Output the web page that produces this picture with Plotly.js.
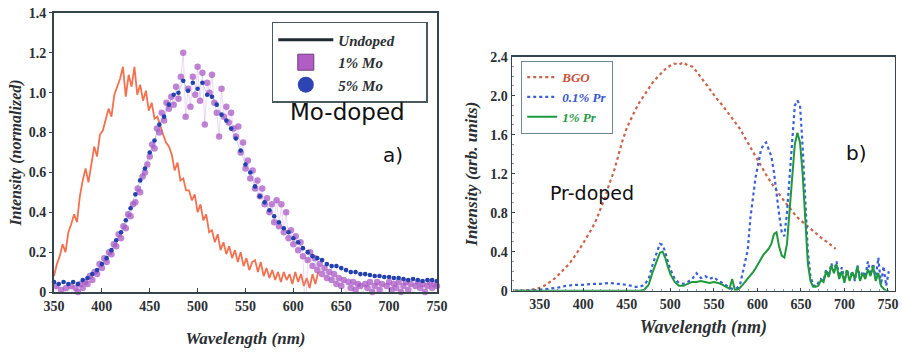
<!DOCTYPE html>
<html>
<head>
<meta charset="utf-8">
<script src="https://cdn.plot.ly/plotly-3.0.1.min.js"></script>
<style>
html,body{margin:0;padding:0;background:#fff;}
#chart{width:903px;height:354px;}
</style>
</head>
<body>
<div id="chart"></div>
<script>
// ---------- Panel a) Mo-doped ----------
// Undoped: starts at 350 nm, every 3 nm
const undopedI = [
  0.08,0.14,0.18,0.24,0.20,0.30,0.34,0.39,0.35,0.48,
  0.56,0.62,0.55,0.64,0.73,0.68,0.79,0.81,0.87,0.92,
  0.88,0.99,1.03,1.07,1.13,0.98,1.09,1.03,1.13,0.99,
  1.04,0.96,1.01,0.91,0.95,0.87,0.88,0.83,0.79,0.75,
  0.73,0.69,0.61,0.65,0.56,0.57,0.51,0.51,0.46,0.49,
  0.40,0.44,0.36,0.39,0.30,0.31,0.25,0.29,0.21,0.25,
  0.19,0.23,0.17,0.21,0.15,0.20,0.13,0.17,0.11,0.15,
  0.16,0.10,0.15,0.08,0.12,0.07,0.11,0.06,0.10,0.05,
  0.10,0.06,0.09,0.04,0.10,0.05,0.09,0.03,0.07,0.02,
  0.09,0.04,0.10
];
// 1% Mo: starts at 350 nm, every 2.5 nm
const mo1I = [
  -0.02,0.03,-0.04,0.01,-0.03,0.02,-0.01,0.03,-0.02,0.02,
  0.00,0.04,0.02,0.05,0.04,0.08,0.06,0.10,0.09,0.14,
  0.12,0.17,0.15,0.20,0.19,0.24,0.23,0.29,0.27,0.33,
  0.32,0.39,0.38,0.44,0.45,0.52,0.50,0.58,0.60,0.64,
  0.68,0.74,0.72,0.82,0.80,0.90,0.86,0.95,0.92,0.98,
  0.94,1.03,0.97,1.08,1.20,0.88,1.02,0.93,1.08,0.99,
  1.13,0.96,1.10,0.84,1.05,1.00,1.09,0.95,0.90,0.78,
  1.02,0.88,0.93,0.85,0.90,0.82,0.78,0.83,0.70,0.75,
  0.62,0.66,0.57,0.61,0.52,0.56,0.48,0.52,0.44,0.47,
  0.40,0.44,0.35,0.46,0.33,0.44,0.30,0.40,0.27,0.31,
  0.24,0.28,0.21,0.25,0.18,-0.13,0.16,0.20,0.13,0.17,
  0.11,0.14,0.09,0.12,0.07,0.10,0.06,0.09,0.04,0.07,
  0.03,0.06,-0.02,0.05,0.02,0.05,0.01,0.04,0.03,-0.01,
  0.04,0.02,0.05,0.00,0.03,0.05,0.01,0.04,-0.02,0.03,
  0.05,0.01,0.04,0.02,0.05,0.00,0.03,0.05,0.01,0.04,
  -0.01,0.03,0.05,0.02,0.04,0.00,0.03,0.05,0.02,0.04,
  0.03
];
// 5% Mo: starts at 350 nm, every 5 nm
const mo5I = [
  0.05,0.04,0.05,0.04,0.05,0.04,0.06,0.07,0.09,0.11,
  0.14,0.17,0.21,0.26,0.30,0.36,0.42,0.49,0.56,0.62,
  0.70,0.76,0.84,0.88,0.94,0.99,1.00,1.06,1.01,1.05,
  1.02,1.05,0.99,0.98,0.94,0.89,0.86,0.82,0.77,0.71,
  0.64,0.60,0.53,0.48,0.45,0.41,0.38,0.35,0.32,0.30,
  0.27,0.25,0.22,0.20,0.18,0.17,0.16,0.14,0.13,0.13,
  0.12,0.11,0.10,0.10,0.09,0.09,0.085,0.08,0.08,0.075,
  0.075,0.07,0.07,0.065,0.06,0.065,0.06,0.055,0.06,0.06,
  0.055
];
const aXTicks = [350,400,450,500,550,600,650,700,750];
const aYTicks = [0,0.2,0.4,0.6,0.8,1.0,1.2,1.4];
const aYText  = ["0","0.2","0.4","0.6","0.8","1.0","1.2","1.4"];

// ---------- Panel b) Pr-doped ----------
// BGO: starts at 320 nm, every 5 nm
const bgoI = [
  0,0,0,0.005,0.01,0.02,0.03,0.05,0.08,0.11,
  0.15,0.19,0.24,0.29,0.35,0.42,0.49,0.56,0.64,0.73,
  0.84,0.96,1.10,1.22,1.38,1.54,1.67,1.77,1.86,1.94,
  2.01,2.08,2.14,2.19,2.24,2.28,2.31,2.33,2.32,2.34,
  2.31,2.30,2.25,2.19,2.12,2.06,2.00,1.95,1.90,1.84,
  1.77,1.72,1.66,1.58,1.50,1.42,1.34,1.27,1.19,1.12,
  1.05,0.99,0.93,0.87,0.81,0.76,0.72,0.68,0.64,0.60,
  0.56,0.53,0.50,0.46,0.43
];
const prWl = [
  322,330,340,350,360,370,380,390,400,410,
  420,430,440,450,460,465,470,475,480,485,
  488,491,494,497,500,505,510,515,520,525,
  530,535,540,545,550,555,560,565,568,571,
  574,577,580,583,586,589,592,595,598,601,
  604,607,610,613,616,619,622,625,628,631,
  634,637,640,643,646,649,652,655,658,661,
  664,667,670,673,676,679,682,685,688,691,
  694,697,700,703,706,709,712,715,718,721,
  724,727,730,733,736,739,742,745,748,751
];
const pr01I = [
  0,0,0,0.01,0.02,0.03,0.05,0.06,0.06,0.07,
  0.07,0.08,0.07,0.06,0.04,0.04,0.06,0.12,0.28,0.42,
  0.48,0.47,0.40,0.30,0.22,0.12,0.08,0.07,0.09,0.12,
  0.18,0.13,0.15,0.12,0.14,0.10,0.08,0.05,0.03,0.02,
  0.02,0.03,0.06,0.18,0.30,0.42,0.75,0.98,1.17,1.30,
  1.44,1.50,1.52,1.45,1.38,1.22,0.98,0.78,0.60,0.56,
  0.80,1.20,1.60,1.90,1.95,1.90,1.48,0.90,0.40,0.15,
  0.06,0.04,0.08,0.12,0.10,0.22,0.15,0.28,0.20,0.30,
  0.14,0.24,0.10,0.22,0.12,0.20,0.10,0.26,0.12,0.20,
  0.14,0.30,0.16,0.28,0.12,0.34,0.06,0.25,0.05,0.20
];
const pr1I = [
  0,0,0,0,0,0,0,0,0,0,
  0,0,0,0,0,0,0.01,0.06,0.20,0.33,
  0.39,0.40,0.34,0.25,0.17,0.09,0.05,0.05,0.07,0.09,
  0.09,0.10,0.09,0.08,0.09,0.08,0.06,0.03,0.02,0.12,
  0.01,0.01,0.03,0.06,0.09,0.12,0.15,0.19,0.23,0.28,
  0.33,0.37,0.40,0.43,0.48,0.58,0.60,0.45,0.36,0.34,
  0.48,0.80,1.15,1.50,1.62,1.52,1.20,0.70,0.28,0.10,
  0.04,0.04,0.05,0.11,0.09,0.20,0.14,0.26,0.18,0.27,
  0.12,0.20,0.08,0.21,0.10,0.19,0.12,0.25,0.10,0.18,
  0.12,0.22,0.15,0.25,0.10,0.18,0.05,0.02,0,0
];
const bXTicks = [350,400,450,500,550,600,650,700,750];
const bYTicks = [0,0.4,0.8,1.2,1.6,2.0,2.4];
const bYText  = ["0","0.4","0.8","1.2","1.6","2.0","2.4"];

const SERIF = 'Liberation Serif';
const SANS = 'DejaVu Sans';
const TXT = '#2b2f33';
const FRAME = '#34454b';

const traces = [
  {x0:350, dx:3, y:undopedI, type:'scatter', mode:'lines', xaxis:'x', yaxis:'y',
   line:{color:'#f3714f', width:1.8}, showlegend:false, name:'Undoped'},
  {x0:350, dx:2.5, y:mo1I, type:'scatter', mode:'lines+markers', xaxis:'x', yaxis:'y',
   line:{color:'rgba(205,160,228,0.4)', width:1},
   marker:{color:'rgba(168,84,196,0.72)', size:6.5}, cliponaxis:false, showlegend:false, name:'1% Mo'},
  {x0:350, dx:5, y:mo5I, type:'scatter', mode:'lines+markers', xaxis:'x', yaxis:'y',
   line:{color:'rgba(90,120,225,0.4)', width:0.8},
   marker:{color:'#2240ae', size:4.6}, cliponaxis:false, showlegend:false, name:'5% Mo'},
  // legend entries for panel a
  {x:[null], y:[null], type:'scatter', mode:'lines', xaxis:'x', yaxis:'y', legend:'legend',
   line:{color:'#1d2a30', width:3}, name:'Undoped&nbsp;&nbsp;&nbsp;&nbsp;&nbsp;&nbsp;&nbsp;'},
  {x:[null], y:[null], type:'scatter', mode:'markers', xaxis:'x', yaxis:'y', legend:'legend',
   marker:{symbol:'square', color:'#b25dc4', size:16, line:{color:'#6d3a80', width:1}}, name:'1% Mo'},
  {x:[null], y:[null], type:'scatter', mode:'markers', xaxis:'x', yaxis:'y', legend:'legend',
   marker:{symbol:'circle', color:'#2c44b4', size:16}, name:'5% Mo'},

  {x0:320, dx:5, y:bgoI, type:'scatter', mode:'lines', xaxis:'x2', yaxis:'y2', legend:'legend2',
   line:{color:'#cc644c', width:2.2, dash:'dot'}, name:'<span style="color:#c9523c">BGO</span>'},
  {x:prWl, y:pr01I, type:'scatter', mode:'lines', xaxis:'x2', yaxis:'y2', legend:'legend2',
   line:{color:'#3a5fdc', width:2.2, dash:'dot'}, name:'<span style="color:#3556d0">0.1% Pr</span>'},
  {x:prWl, y:pr1I, type:'scatter', mode:'lines', xaxis:'x2', yaxis:'y2', legend:'legend2',
   line:{color:'#1e9a3c', width:2}, name:'<span style="color:#1f9a4a">1% Pr</span>'}
];

function tf(){ return {family:SERIF, size:14, color:TXT, weight:'bold'}; }
function ttf(sz){ return {family:SERIF, size:sz, color:TXT, weight:'bold', style:'italic'}; }

const layout = {
  width:903, height:354,
  margin:{l:0, r:0, t:0, b:0},
  paper_bgcolor:'#fff', plot_bgcolor:'#fff',
  showlegend:true,
  xaxis:{domain:[0.0598,0.4839], range:[350,750], anchor:'y',
    tickvals:aXTicks, ticks:'inside', ticklen:4, tickcolor:FRAME,
    showline:true, linecolor:FRAME, linewidth:2, mirror:true, showgrid:false, zeroline:false,
    tickfont:tf(), title:{text:'Wavelength (nm)', font:ttf(17), standoff:19}},
  yaxis:{domain:[0.1751,0.9633], range:[0,1.4], anchor:'x',
    tickvals:aYTicks, ticktext:aYText, ticks:'outside', ticklen:3, tickcolor:FRAME,
    showline:true, linecolor:FRAME, linewidth:2, mirror:true, showgrid:false, zeroline:false,
    tickfont:tf(), title:{text:'Intensity (normalized)', font:ttf(16), standoff:3}},
  xaxis2:{domain:[0.567,0.991], range:[318,758], anchor:'y2',
    tickvals:bXTicks, ticks:'inside', ticklen:3, tickcolor:FRAME,
    minor:{dtick:10, ticks:'inside', ticklen:2, tickcolor:'#8a9aa0'},
    showline:true, linecolor:FRAME, linewidth:1.5, mirror:true, showgrid:false, zeroline:false,
    tickfont:tf(), title:{text:'Wavelength (nm)', font:ttf(18), standoff:9}},
  yaxis2:{domain:[0.1788,0.8398], range:[0,2.4], anchor:'x2',
    tickvals:bYTicks, ticktext:bYText, ticks:'inside', ticklen:3, tickcolor:FRAME,
    minor:{dtick:0.1, ticks:'inside', ticklen:2, tickcolor:'#8a9aa0'},
    showline:true, linecolor:FRAME, linewidth:1.5, mirror:true, showgrid:false, zeroline:false,
    tickfont:tf(), title:{text:'Intensity (arb. units)', font:ttf(17), standoff:8}},
  legend:{x:0.301, y:0.938, xanchor:'left', yanchor:'top', bgcolor:'#fff',
    bordercolor:'#4a5a60', borderwidth:1.5, itemwidth:55, tracegroupgap:0,
    font:{family:SERIF, size:15, color:TXT, weight:'bold', style:'italic'}},
  legend2:{x:0.577, y:0.828, xanchor:'left', yanchor:'top', bgcolor:'#fff',
    bordercolor:'#6d8a90', borderwidth:1.2, itemwidth:30, tracegroupgap:0,
    font:{family:SERIF, size:13, color:TXT, weight:'bold', style:'italic'}},
  annotations:[
    {xref:'paper', yref:'paper', x:0.385, y:0.684, xanchor:'center', yanchor:'middle', text:'Mo-doped', showarrow:false,
     font:{family:SANS, size:23, color:'#111'}},
    {xref:'paper', yref:'paper', x:0.435, y:0.562, xanchor:'center', yanchor:'middle', text:'a)', showarrow:false,
     font:{family:SANS, size:20, color:'#111'}},
    {xref:'paper', yref:'paper', x:0.656, y:0.455, xanchor:'center', yanchor:'middle', text:'Pr-doped', showarrow:false,
     font:{family:SANS, size:19, color:'#111'}},
    {xref:'paper', yref:'paper', x:0.948, y:0.568, xanchor:'center', yanchor:'middle', text:'b)', showarrow:false,
     font:{family:SANS, size:20, color:'#111'}}
  ]
};

Plotly.newPlot('chart', traces, layout, {displayModeBar:false, staticPlot:true});
</script>
</body>
</html>
